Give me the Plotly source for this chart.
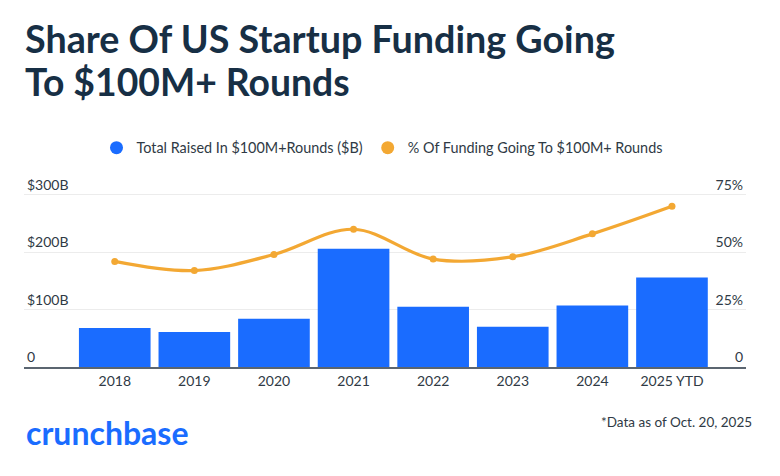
import plotly.graph_objects as go

# Data
YEARS = ['2018', '2019', '2020', '2021', '2022', '2023', '2024', '2025 YTD']
RAISED_B = [68, 61, 84, 206, 105, 70, 107, 156]
SHARE_PCT = [46, 42, 49, 60, 47, 48, 58, 70]
Y1_TICKS = [0, 100, 200, 300]
Y1_LABELS = ['0', '$100B', '$200B', '$300B']
Y2_TICKS = [0, 25, 50, 75]
Y2_LABELS = ['0', '25%', '50%', '75%']
TITLE_LINES = ['Share Of US Startup Funding Going', 'To $100M+ Rounds']

BLUE = '#1a6cff'
ORANGE = '#f3a833'
NAVY = '#172f45'
TXT = '#2f3a45'
FONT = 'Lato'

# the page body adds an 8px margin, so the figure is shifted by that much
OFF = 8
W, H = 780 - OFF, 476 - OFF
Y1_TOP = 345
# plot area in page pixels: x 24..746, value 0 at row 367, 300 at row 195
PL, PR, PB = 24 - OFF, 746 - OFF, 367 - OFF
PT = PB - Y1_TOP * (172 / 300)
PH = PB - PT


def py(page_y):
    # page pixel row -> paper coordinate
    return (PB - (page_y - OFF)) / PH


def px(page_x):
    return (page_x - OFF - PL) / (PR - PL)


fig = go.Figure()
fig.add_trace(go.Bar(
    x=YEARS, y=RAISED_B, marker=dict(color=BLUE, line=dict(width=0)),
    showlegend=False, yaxis='y'
))
fig.add_trace(go.Scatter(
    x=YEARS, y=SHARE_PCT, mode='lines+markers', yaxis='y2',
    line=dict(color=ORANGE, width=3.2, shape='spline', smoothing=1),
    marker=dict(color=ORANGE, size=7), showlegend=False
))
# legend entries drawn as plain circles
fig.add_trace(go.Scatter(
    x=[None], y=[None], mode='markers', name='Total Raised In $100M+Rounds ($B)',
    marker=dict(color=BLUE, size=13)
))
fig.add_trace(go.Scatter(
    x=[None], y=[None], mode='markers', name='% Of Funding Going To $100M+ Rounds',
    marker=dict(color=ORANGE, size=13), yaxis='y2'
))

annots = [
    dict(
        text=TITLE_LINES[0], xref='paper', yref='paper', x=px(24), y=py(62),
        xanchor='left', yanchor='bottom', showarrow=False, borderpad=0,
        font=dict(family=FONT, size=37.7, color=NAVY, weight=700)
    ),
    dict(
        text=TITLE_LINES[1], xref='paper', yref='paper', x=px(24), y=py(105),
        xanchor='left', yanchor='bottom', showarrow=False, borderpad=0,
        font=dict(family=FONT, size=37.3, color=NAVY, weight=700)
    ),
    dict(
        text='crunchbase', xref='paper', yref='paper', x=px(24), y=py(432),
        xanchor='left', yanchor='middle', showarrow=False,
        font=dict(family=FONT, size=32, color=BLUE, weight=700)
    ),
    dict(
        text='*Data as of Oct. 20, 2025', xref='paper', yref='paper', x=px(754),
        y=py(422), xanchor='right', yanchor='middle', showarrow=False,
        font=dict(family=FONT, size=13.5, color=TXT)
    ),
]

fig.update_layout(
    width=W, height=H,
    margin=dict(l=PL, r=W - PR, t=PT, b=H - PB, autoexpand=False),
    paper_bgcolor='white', plot_bgcolor='white',
    font=dict(family=FONT, size=14, color=TXT),
    bargap=0.1,
    legend=dict(
        orientation='h', x=px(382), xanchor='center', y=py(148), yanchor='middle',
        font=dict(size=14.4, color=TXT), itemwidth=30, tracegroupgap=0
    ),
    xaxis=dict(
        range=[-1.14, 7.93], showgrid=False, showline=True, linecolor='#5b6570',
        linewidth=1.5, ticks='', tickfont=dict(size=14, color=TXT), fixedrange=True
    ),
    yaxis=dict(
        range=[0, Y1_TOP], tickvals=Y1_TICKS, ticktext=Y1_LABELS,
        ticklabelposition='inside top', showgrid=True, gridcolor='#ececec', gridwidth=1,
        zeroline=False, tickfont=dict(size=14, color=TXT)
    ),
    yaxis2=dict(
        range=[0, Y1_TOP / 4], tickvals=Y2_TICKS, ticktext=Y2_LABELS, overlaying='y',
        side='right', ticklabelposition='inside top', showgrid=False, zeroline=False,
        tickfont=dict(size=14, color=TXT)
    ),
    annotations=annots,
)

fig.write_html('out.html')
